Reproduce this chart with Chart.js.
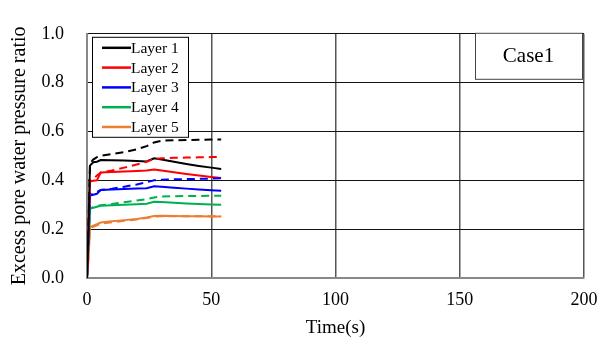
<!DOCTYPE html>
<html>
<head>
<meta charset="utf-8">
<script src="https://cdn.jsdelivr.net/npm/chart.js@4.4.0/dist/chart.umd.min.js"></script>
<style>
  html, body { margin: 0; padding: 0; background: #fff; }
  #wrap { width: 600px; height: 340px; }
</style>
</head>
<body>
<div id="wrap"><canvas id="myChart" width="600" height="340"></canvas></div>
<script>
// time axis (s)
var tiempo = [0, 0.6, 1.2, 2.5, 4, 5.5, 10, 15, 20, 24, 27, 30, 35, 40, 45, 50, 54];

// solid lines
var capa1 = [0, 0.20, 0.46, 0.474, 0.476, 0.483, 0.482, 0.481, 0.479, 0.477, 0.490, 0.485, 0.476, 0.467, 0.459, 0.452, 0.446];
var capa2 = [0, 0.18, 0.395, 0.398, 0.400, 0.432, 0.434, 0.436, 0.438, 0.440, 0.444, 0.440, 0.433, 0.426, 0.420, 0.414, 0.410];
var capa3 = [0, 0.15, 0.338, 0.341, 0.345, 0.360, 0.362, 0.364, 0.366, 0.368, 0.376, 0.374, 0.370, 0.366, 0.362, 0.359, 0.357];
var capa4 = [0, 0.12, 0.284, 0.288, 0.292, 0.296, 0.298, 0.300, 0.302, 0.304, 0.312, 0.311, 0.308, 0.305, 0.303, 0.301, 0.300];
var capa5 = [0, 0.08, 0.208, 0.214, 0.220, 0.227, 0.232, 0.237, 0.242, 0.248, 0.254, 0.255, 0.254, 0.253, 0.253, 0.252, 0.252];

// dashed lines
var capa1b = [0, 0.22, 0.47, 0.485, 0.495, 0.500, 0.508, 0.516, 0.527, 0.540, 0.555, 0.562, 0.564, 0.565, 0.566, 0.567, 0.567];
var capa2b = [0, 0.19, 0.40, 0.405, 0.420, 0.431, 0.440, 0.452, 0.465, 0.476, 0.488, 0.490, 0.492, 0.493, 0.494, 0.495, 0.495];
var capa3b = [0, 0.16, 0.34, 0.345, 0.352, 0.360, 0.366, 0.374, 0.383, 0.392, 0.400, 0.402, 0.404, 0.405, 0.406, 0.407, 0.408];
var capa4b = [0, 0.13, 0.285, 0.290, 0.294, 0.298, 0.303, 0.310, 0.317, 0.323, 0.330, 0.334, 0.335, 0.336, 0.336, 0.337, 0.337];
var capa5b = [0, 0.08, 0.205, 0.210, 0.216, 0.222, 0.228, 0.234, 0.240, 0.246, 0.251, 0.253, 0.253, 0.253, 0.253, 0.253, 0.253];

var nombres = ['Layer 1', 'Layer 2', 'Layer 3', 'Layer 4', 'Layer 5'];
var colores = ['#000000', '#ff0000', '#0000ff', '#00b050', '#ed7d31'];
var xTicks = [0, 50, 100, 150, 200];

function puntos(serie) {
    return tiempo.map((t, i) => ({ x: t, y: serie[i] }));
}

var solidas = [capa1, capa2, capa3, capa4, capa5];
var rayadas = [capa1b, capa2b, capa3b, capa4b, capa5b];

var datasets = [];
rayadas.forEach((s, i) => {
    datasets.push({
        label: nombres[i] + ' (dashed)',
        data: puntos(s),
        borderColor: colores[i],
        borderWidth: 2,
        borderDash: [8, 5],
        pointRadius: 0,
        fill: false,
        tension: 0,
        enLeyenda: false
    });
});
solidas.forEach((s, i) => {
    datasets.push({
        label: nombres[i],
        data: puntos(s),
        borderColor: colores[i],
        borderWidth: 2,
        pointRadius: 0,
        fill: false,
        tension: 0,
        enLeyenda: true
    });
});

var serif = "'Liberation Serif', 'Times New Roman', serif";

// legend box + Case1 label drawn inside the plot
var cajas = {
    id: 'cajas',
    afterDraw(chart) {
        var c = chart.ctx;
        var a = chart.chartArea;
        c.save();
        // legend
        var lx = a.left + 5, ly = a.top + 3, lw = 96, lh = 100;
        c.fillStyle = '#fff';
        c.fillRect(lx, ly, lw, lh);
        c.strokeStyle = '#000';
        c.lineWidth = 1;
        c.strokeRect(lx + 0.5, ly + 0.5, lw, lh);
        c.font = '15.5px ' + serif;
        c.textBaseline = 'middle';
        var items = chart.data.datasets.filter(d => d.enLeyenda);
        items.forEach((d, i) => {
            var yy = ly + 11 + i * 19.8;
            c.strokeStyle = d.borderColor;
            c.lineWidth = 2.5;
            c.beginPath();
            c.moveTo(lx + 10, yy);
            c.lineTo(lx + 39, yy);
            c.stroke();
            c.fillStyle = '#000';
            c.fillText(d.label, lx + 39, yy + 1);
        });
        // Case1
        var bx = a.right - 109, by = a.top - 1, bw = 107, bh = 46;
        c.fillStyle = '#fff';
        c.fillRect(bx, by, bw, bh);
        c.strokeStyle = '#444';
        c.lineWidth = 1;
        c.strokeRect(bx + 0.5, by + 0.5, bw, bh);
        c.fillStyle = '#000';
        c.font = '21px ' + serif;
        c.textAlign = 'center';
        c.fillText('Case1', bx + bw / 2, by + bh / 2 + 1);
        c.restore();
    }
};

var ctx = document.getElementById('myChart').getContext('2d');
var myChart = new Chart(ctx, {
    type: 'line',
    data: { datasets: datasets },
    options: {
        responsive: false,
        animation: false,
        layout: { padding: { left: 0, right: 16, top: 14, bottom: 0 } },
        plugins: {
            legend: { display: false },
            tooltip: { enabled: false }
        },
        scales: {
            x: {
                type: 'linear',
                min: 0,
                max: 200,
                afterBuildTicks: s => { s.ticks = xTicks.map(v => ({ value: v })); },
                afterFit: s => { s.height = 62; s.paddingRight = 0; s.paddingLeft = 0; },
                grid: { color: '#555', lineWidth: 1.5, drawTicks: false },
                border: { color: '#888', width: 2 },
                ticks: {
                    padding: 11,
                    color: '#000',
                    font: { family: serif, size: 18 }
                },
                title: {
                    display: true,
                    text: 'Time(s)',
                    color: '#000',
                    font: { family: serif, size: 19 },
                    padding: { top: 0, bottom: 1 }
                }
            },
            y: {
                min: 0,
                max: 1,
                afterFit: s => { s.width = 87; },
                grid: { color: '#111', lineWidth: 1, drawTicks: false },
                border: { color: '#888', width: 2 },
                ticks: {
                    stepSize: 0.2,
                    padding: 23,
                    color: '#000',
                    font: { family: serif, size: 18 },
                    callback: v => v.toFixed(1)
                },
                title: {
                    display: true,
                    text: 'Excess pore water pressure ratio',
                    color: '#000',
                    font: { family: serif, size: 20 },
                    padding: { top: 8, bottom: 0 }
                }
            }
        }
    },
    plugins: [cajas]
});
</script>
</body>
</html>
